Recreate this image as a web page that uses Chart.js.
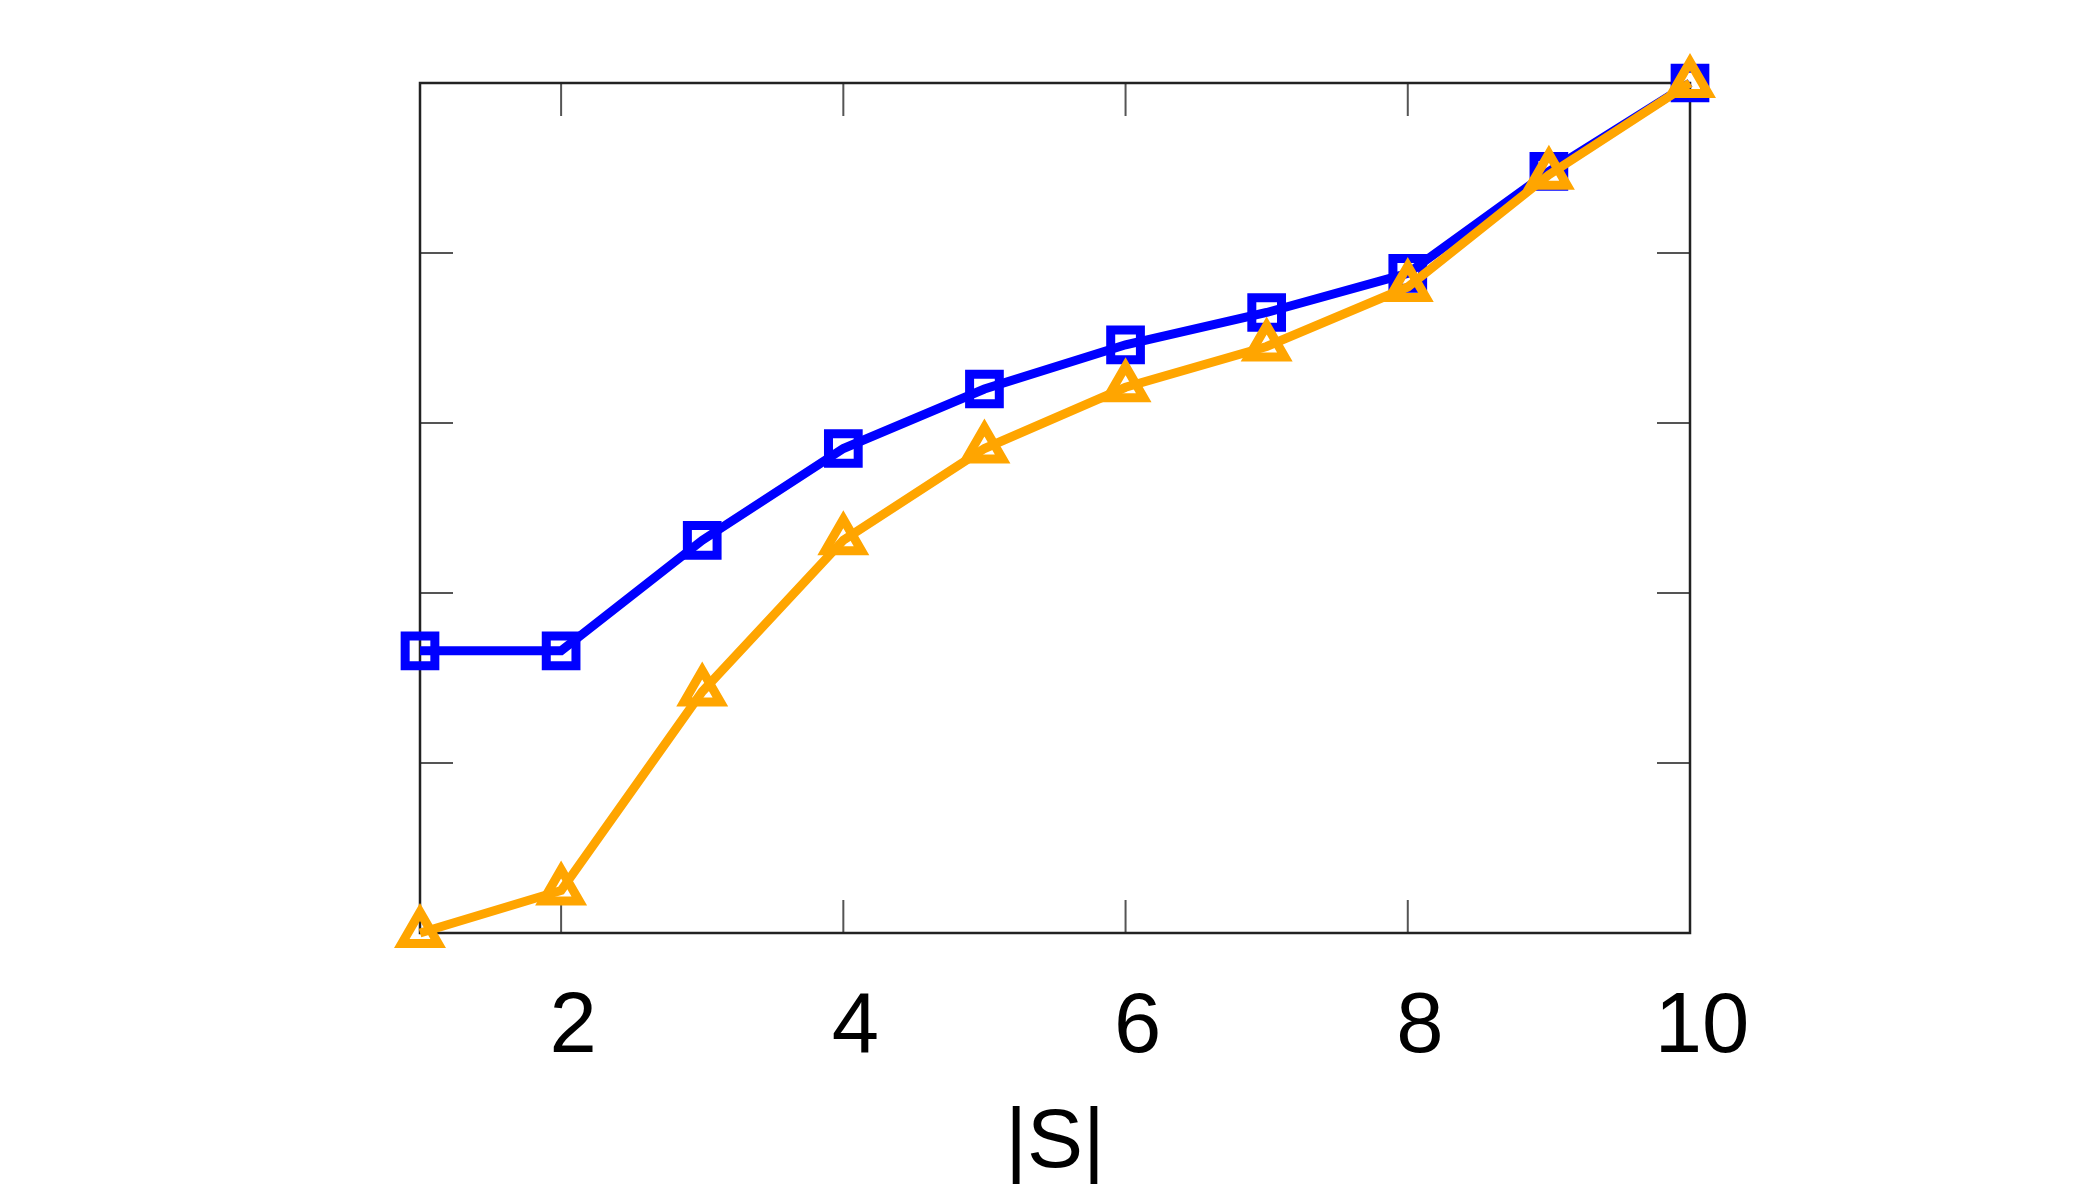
<!DOCTYPE html>
<html>
<head>
<meta charset="utf-8">
<script src="https://cdn.jsdelivr.net/npm/chart.js@4/dist/chart.umd.min.js"></script>
<style>
  html, body { margin: 0; padding: 0; background: #fff; }
  #wrap { width: 2100px; height: 1200px; }
</style>
</head>
<body>
<div id="wrap"><canvas id="chart" width="2100" height="1200"></canvas></div>
<script>
// values
const sizes = [1, 2, 3, 4, 5, 6, 7, 8, 9, 10];
const blueValues = [1.66, 1.66, 2.31, 2.85, 3.20, 3.46, 3.65, 3.88, 4.48, 5.00];
const orangeValues = [0.00, 0.25, 1.42, 2.31, 2.85, 3.21, 3.45, 3.80, 4.46, 5.00];
const xTicks = [2, 4, 6, 8, 10];
const yTicks = [0, 1, 2, 3, 4, 5];

const toPoints = (vals) => vals.map((v, i) => ({ x: sizes[i], y: v }));

// frame + inside ticks on all four sides
const framePlugin = {
    id: 'frame',
    beforeDatasetsDraw(chart) {
        const { ctx, chartArea: a, scales } = chart;
        const len = 33;
        ctx.save();
        ctx.strokeStyle = '#555';
        ctx.lineWidth = 2;
        ctx.beginPath();
        xTicks.forEach(t => {
            const px = scales.x.getPixelForValue(t);
            ctx.moveTo(px, a.bottom); ctx.lineTo(px, a.bottom - len);
            ctx.moveTo(px, a.top); ctx.lineTo(px, a.top + len);
        });
        yTicks.forEach(t => {
            const py = scales.y.getPixelForValue(t);
            ctx.moveTo(a.left, py); ctx.lineTo(a.left + len, py);
            ctx.moveTo(a.right, py); ctx.lineTo(a.right - len, py);
        });
        ctx.stroke();
        ctx.strokeStyle = '#222';
        ctx.lineWidth = 2.5;
        ctx.strokeRect(a.left, a.top, a.right - a.left, a.bottom - a.top);
        ctx.restore();
    }
};

const ctx = document.getElementById('chart').getContext('2d');
const chart = new Chart(ctx, {
    type: 'line',
    data: {
        datasets: [
            {
                label: 'blue',
                data: toPoints(blueValues),
                borderColor: '#0000ff',
                backgroundColor: '#ffffff',
                borderWidth: 9,
                pointStyle: 'rect',
                pointRadius: 21,
                pointBorderWidth: 9,
                pointBorderColor: '#0000ff',
                pointBackgroundColor: 'rgba(255,255,255,0)',
                tension: 0,
                clip: false,
                order: 1
            },
            {
                label: 'orange',
                data: toPoints(orangeValues),
                borderColor: '#ffa500',
                backgroundColor: '#ffffff',
                borderWidth: 9,
                pointStyle: 'triangle',
                pointRadius: 21,
                pointBorderWidth: 9,
                pointBorderColor: '#ffa500',
                pointBackgroundColor: 'rgba(255,255,255,0)',
                tension: 0,
                clip: false,
                order: 0
            }
        ]
    },
    options: {
        responsive: false,
        animation: false,
        events: [],
        layout: { padding: { left: 420, right: 410, top: 83, bottom: 0 } },
        plugins: {
            legend: { display: false },
            tooltip: { enabled: false }
        },
        scales: {
            x: {
                type: 'linear',
                min: 1,
                max: 10,
                afterBuildTicks: (scale) => { scale.ticks = xTicks.map(v => ({ value: v })); },
                afterFit: (scale) => { scale.height = 267; },
                border: { display: false },
                grid: { display: false, drawTicks: false },
                ticks: {
                    color: '#000',
                    padding: 45,
                    labelOffset: 12,
                    maxRotation: 0,
                    font: { family: '"Liberation Sans", Arial, sans-serif', size: 85 }
                },
                title: {
                    display: true,
                    text: '|S|',
                    color: '#000',
                    padding: { top: 0, bottom: 6 },
                    font: { family: '"Liberation Sans", Arial, sans-serif', size: 84 }
                }
            },
            y: {
                type: 'linear',
                min: 0,
                max: 5,
                display: false,
                afterBuildTicks: (scale) => { scale.ticks = yTicks.map(v => ({ value: v })); }
            }
        }
    },
    plugins: [framePlugin]
});
</script>
</body>
</html>
